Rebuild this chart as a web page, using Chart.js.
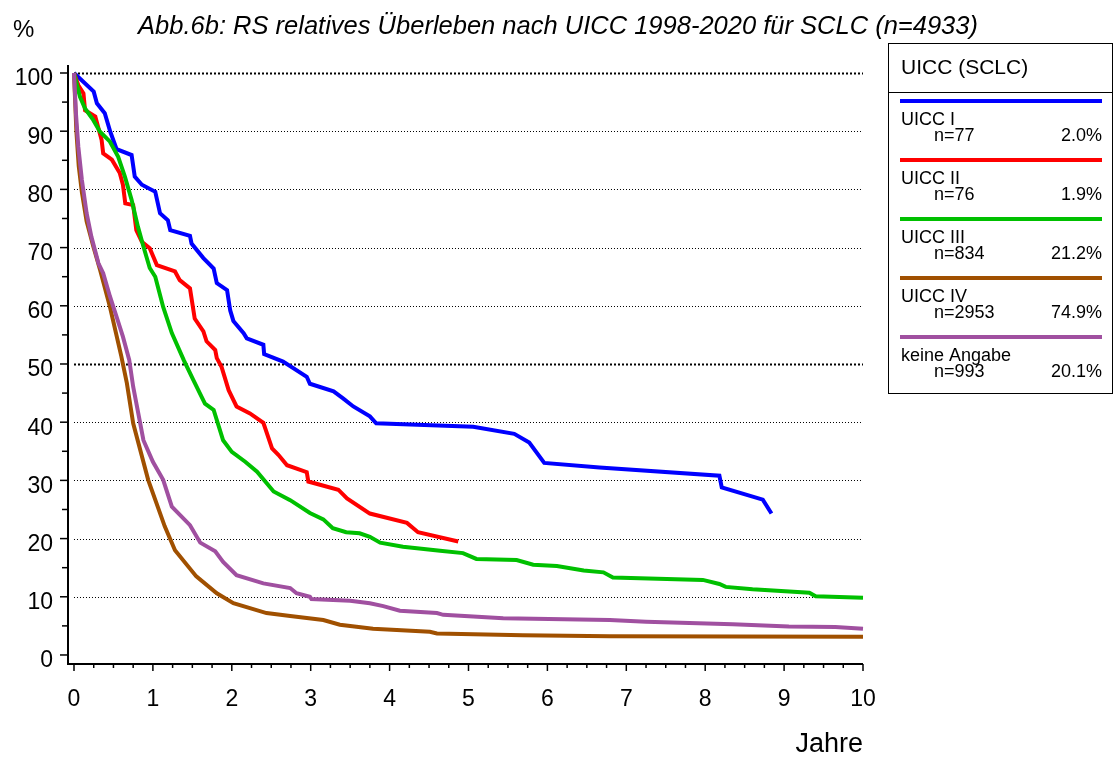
<!DOCTYPE html>
<html>
<head>
<meta charset="utf-8">
<script src="https://cdn.jsdelivr.net/npm/chart.js@4.4.1/dist/chart.umd.min.js"></script>
<style>
  html, body { margin: 0; padding: 0; background: #fff; }
  #wrap { position: relative; width: 1113px; height: 757px; }
</style>
</head>
<body>
<div id="wrap"><canvas id="chart" width="1113" height="757"></canvas></div>
<script>
const seriesNames = ['UICC I', 'UICC II', 'UICC III', 'UICC IV', 'keine Angabe'];
const seriesCounts = ['n=77', 'n=76', 'n=834', 'n=2953', 'n=993'];
const seriesShares = ['2.0%', '1.9%', '21.2%', '74.9%', '20.1%'];
const seriesColors = ['#0000ff', '#ff0000', '#00c000', '#a05000', '#a050a0'];

const uicc1Years = [0, 0.25, 0.29, 0.39, 0.46, 0.54, 0.73, 0.77, 0.86, 1.03, 1.09, 1.19, 1.22, 1.47, 1.49, 1.64, 1.77, 1.81, 1.94, 1.98, 2.02, 2.15, 2.19, 2.40, 2.41, 2.65, 2.95, 2.99, 3.29, 3.41, 3.54, 3.75, 3.83, 5.06, 5.58, 5.77, 5.96, 6.66, 8.18, 8.21, 8.73, 8.84];
const uicc1Pct = [100, 96.8, 94.8, 93.1, 89.9, 86.9, 85.9, 82.2, 80.8, 79.6, 75.9, 74.7, 73.0, 72.0, 70.7, 68.2, 66.4, 63.9, 62.7, 59.2, 57.4, 55.3, 54.4, 53.3, 51.7, 50.4, 47.8, 46.6, 45.3, 44.1, 42.7, 41.0, 39.8, 39.2, 38.0, 36.5, 33.0, 32.2, 30.8, 28.8, 26.7, 24.3];

const uicc2Years = [0, 0.055, 0.12, 0.14, 0.27, 0.35, 0.37, 0.48, 0.58, 0.62, 0.65, 0.75, 0.79, 0.86, 0.96, 1.05, 1.28, 1.34, 1.47, 1.53, 1.64, 1.68, 1.79, 1.81, 1.87, 1.96, 2.06, 2.23, 2.40, 2.51, 2.59, 2.70, 2.95, 2.97, 3.35, 3.46, 3.75, 4.22, 4.36, 4.87];
const uicc2Pct = [100, 97.9, 96.5, 93.6, 92.5, 88.5, 86.2, 85.1, 82.8, 80.8, 77.6, 77.3, 73.0, 71.0, 69.9, 67.0, 65.9, 64.4, 63.0, 57.8, 55.6, 53.9, 52.4, 51.0, 49.5, 45.5, 42.7, 41.5, 39.9, 35.5, 34.4, 32.6, 31.4, 29.8, 28.4, 26.9, 24.3, 22.7, 21.1, 19.5];

const uicc3Years = [0, 0.076, 0.14, 0.245, 0.33, 0.456, 0.56, 0.645, 0.73, 0.81, 0.88, 0.96, 1.03, 1.13, 1.24, 1.39, 1.51, 1.66, 1.77, 1.89, 2.0, 2.17, 2.32, 2.53, 2.74, 2.99, 3.16, 3.28, 3.45, 3.62, 3.75, 3.88, 4.17, 4.64, 4.93, 5.1, 5.61, 5.82, 6.12, 6.46, 6.71, 6.83, 7.97, 8.18, 8.26, 8.6, 9.32, 9.4, 10];
const uicc3Pct = [100, 95.9, 93.9, 91.9, 89.9, 88.2, 85.6, 82.2, 78.2, 73.6, 70.2, 66.5, 65.0, 59.8, 55.3, 50.7, 47.3, 43.2, 42.1, 36.9, 34.9, 33.2, 31.5, 28.1, 26.6, 24.4, 23.3, 21.8, 21.1, 20.9, 20.3, 19.3, 18.6, 17.9, 17.5, 16.5, 16.3, 15.5, 15.3, 14.5, 14.2, 13.3, 12.9, 12.2, 11.7, 11.3, 10.7, 10.1, 9.85];

const uicc4Years = [0, 0.03, 0.06, 0.1, 0.16, 0.245, 0.33, 0.456, 0.6, 0.67, 0.75, 0.94, 1.15, 1.28, 1.55, 1.81, 2.02, 2.44, 2.74, 3.16, 3.37, 3.79, 4.51, 4.6, 5.69, 6.79, 10];
const uicc4Pct = [100, 90, 84, 79.5, 74.5, 70.2, 66.2, 59.8, 51.3, 46.7, 39.8, 30.1, 22.1, 18.0, 13.5, 10.6, 8.9, 7.2, 6.7, 6.0, 5.2, 4.5, 4.0, 3.7, 3.4, 3.2, 3.15];

const unknownYears = [0, 0.025, 0.055, 0.1, 0.16, 0.22, 0.31, 0.37, 0.456, 0.54, 0.62, 0.70, 0.75, 0.88, 1.0, 1.13, 1.24, 1.47, 1.6, 1.79, 1.89, 2.06, 2.4, 2.74, 2.82, 2.99, 3.01, 3.5, 3.75, 3.92, 4.13, 4.6, 4.68, 5.44, 6.79, 7.25, 8.35, 9.06, 9.65, 10];
const unknownPct = [100, 93, 87.3, 81.6, 75.9, 71.9, 67.3, 65.6, 61.6, 58.1, 54.7, 50.7, 46.1, 36.9, 33.2, 30.1, 25.5, 22.3, 19.3, 17.8, 16.0, 13.7, 12.3, 11.5, 10.6, 10.0, 9.6, 9.3, 8.9, 8.4, 7.6, 7.2, 6.9, 6.3, 6.0, 5.7, 5.3, 4.9, 4.8, 4.5];

const yTickValues = [0, 5, 10, 15, 20, 25, 30, 35, 40, 45, 50, 55, 60, 65, 70, 75, 80, 85, 90, 95, 100];
const xTickValues = [];
for (let i = 0; i <= 40; i++) xTickValues.push(i / 4);
const gridValues = [10, 20, 30, 40, 50, 60, 70, 80, 90, 100];

const titleText = 'Abb.6b: RS relatives Überleben nach UICC 1998-2020 für SCLC (n=4933)';
const legendTitle = 'UICC (SCLC)';

const allYears = [uicc1Years, uicc2Years, uicc3Years, uicc4Years, unknownYears];
const allPct = [uicc1Pct, uicc2Pct, uicc3Pct, uicc4Pct, unknownPct];

const FONT = '"Liberation Sans", Arial, sans-serif';

const datasets = seriesNames.map((name, i) => ({
  label: name,
  data: allYears[i].map((x, j) => ({ x, y: allPct[i][j] })),
  borderColor: seriesColors[i],
  backgroundColor: seriesColors[i],
  borderWidth: 4,
  pointRadius: 0,
  showLine: true,
  tension: 0,
  clip: false,
  order: seriesNames.length - i
}));

// grid, axes and tick marks drawn against the chart's own scales
const axesPlugin = {
  id: 'axesPlugin',
  beforeDatasetsDraw(chart) {
    const { ctx, chartArea, scales } = chart;
    const x0 = scales.x.getPixelForValue(0);
    ctx.save();
    ctx.strokeStyle = '#000';
    gridValues.forEach(v => {
      const y = Math.round(scales.y.getPixelForValue(v)) + 0.5;
      const bold = v === 50 || v === 100;
      ctx.lineWidth = bold ? 2 : 1;
      ctx.setLineDash(bold ? [2, 2] : [1, 2]);
      ctx.beginPath();
      ctx.moveTo(x0, y);
      ctx.lineTo(chartArea.right, y);
      ctx.stroke();
    });
    ctx.setLineDash([]);
    ctx.lineWidth = 2;
    const ax = chartArea.left;
    const ay = chartArea.bottom;
    ctx.beginPath();
    ctx.moveTo(ax, chartArea.top - 8);
    ctx.lineTo(ax, ay);
    ctx.lineTo(chartArea.right, ay);
    ctx.stroke();
    ctx.lineWidth = 1.5;
    yTickValues.forEach(v => {
      const y = scales.y.getPixelForValue(v);
      const len = v % 10 === 0 ? 8 : 6;
      ctx.beginPath();
      ctx.moveTo(ax - len, y);
      ctx.lineTo(ax, y);
      ctx.stroke();
    });
    xTickValues.forEach(v => {
      const x = scales.x.getPixelForValue(v);
      const len = Number.isInteger(v) ? 7 : 4;
      ctx.beginPath();
      ctx.moveTo(x, ay);
      ctx.lineTo(x, ay + len);
      ctx.stroke();
    });
    ctx.restore();
  },
  afterDraw(chart) {
    const { ctx } = chart;
    ctx.save();
    ctx.fillStyle = '#000';
    ctx.textBaseline = 'alphabetic';
    ctx.font = 'italic 25.5px ' + FONT;
    ctx.textAlign = 'center';
    ctx.fillText(titleText, 558, 34);
    ctx.textAlign = 'left';
    ctx.font = '24px ' + FONT;
    ctx.fillText('%', 13, 37);
    ctx.font = '27px ' + FONT;
    ctx.textAlign = 'right';
    ctx.fillText('Jahre', 863, 752);

    // legend box
    const bx = 888.5, by = 43.5, bw = 224, bh = 350;
    ctx.strokeStyle = '#000';
    ctx.lineWidth = 1;
    ctx.strokeRect(bx, by, bw, bh);
    ctx.beginPath();
    ctx.moveTo(bx, 92.5);
    ctx.lineTo(bx + bw, 92.5);
    ctx.stroke();
    ctx.textAlign = 'left';
    ctx.font = '21px ' + FONT;
    ctx.fillText(legendTitle, 901, 74);
    ctx.font = '18px ' + FONT;
    seriesNames.forEach((name, i) => {
      const ly = 101 + i * 59;
      ctx.strokeStyle = seriesColors[i];
      ctx.lineWidth = 4;
      ctx.beginPath();
      ctx.moveTo(900, ly);
      ctx.lineTo(1102, ly);
      ctx.stroke();
      ctx.textAlign = 'left';
      ctx.fillText(name, 901, ly + 24);
      ctx.fillText(seriesCounts[i], 934, ly + 40);
      ctx.textAlign = 'right';
      ctx.fillText(seriesShares[i], 1102, ly + 40);
    });
    ctx.restore();
  }
};

new Chart(document.getElementById('chart'), {
  type: 'scatter',
  data: { datasets },
  options: {
    responsive: false,
    animation: false,
    events: [],
    layout: { padding: { left: 0, top: 73, right: 250, bottom: 0 } },
    plugins: {
      legend: { display: false },
      tooltip: { enabled: false },
      title: { display: false }
    },
    scales: {
      x: {
        type: 'linear',
        min: -0.076,
        max: 10,
        grid: { display: false, drawTicks: false },
        border: { display: false },
        afterBuildTicks(scale) { scale.ticks = xTickValues.map(v => ({ value: v })); },
        afterFit(scale) { scale.height = 93; },
        ticks: {
          autoSkip: false,
          maxRotation: 0,
          padding: 22,
          color: '#000',
          font: { family: FONT, size: 23 },
          callback: v => (Number.isInteger(v) ? String(v) : '')
        }
      },
      y: {
        type: 'linear',
        min: -1.55,
        max: 100,
        grid: { display: false, drawTicks: false },
        border: { display: false },
        afterBuildTicks(scale) { scale.ticks = yTickValues.map(v => ({ value: v })); },
        afterFit(scale) { scale.width = 68; },
        ticks: {
          autoSkip: false,
          padding: 15,
          labelOffset: 6,
          color: '#000',
          font: { family: FONT, size: 23 },
          callback: v => (v % 10 === 0 ? String(v) : '')
        }
      }
    }
  },
  plugins: [axesPlugin]
});
</script>
</body>
</html>
